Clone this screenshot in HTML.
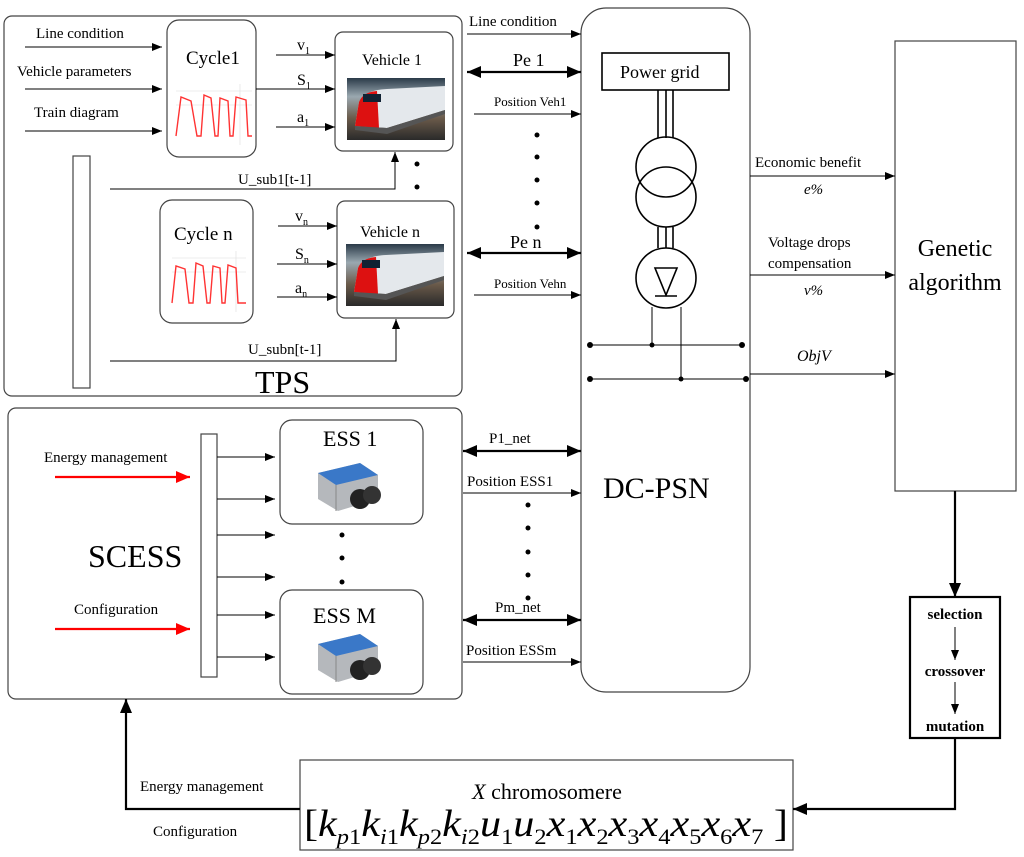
<!DOCTYPE html>
<html><head><meta charset="utf-8"><style>
html,body{margin:0;padding:0;background:#fff;}
svg{display:block;font-family:"Liberation Serif",serif;}
</style></head><body>
<svg width="1024" height="857" viewBox="0 0 1024 857" xmlns="http://www.w3.org/2000/svg">
<defs>
<marker id="a" markerWidth="10" markerHeight="8" refX="10" refY="4" orient="auto" markerUnits="userSpaceOnUse"><path d="M0,0 L10,4 L0,8 Z" fill="#000"/></marker>
<marker id="ab" markerWidth="14" markerHeight="12" refX="14" refY="6" orient="auto-start-reverse" markerUnits="userSpaceOnUse"><path d="M0,0 L14,6 L0,12 Z" fill="#000"/></marker>
<marker id="ar" markerWidth="14" markerHeight="12" refX="14" refY="6" orient="auto" markerUnits="userSpaceOnUse"><path d="M0,0 L14,6 L0,12 Z" fill="#f00"/></marker>
<linearGradient id="tr" x1="0" y1="0" x2="0" y2="1"><stop offset="0" stop-color="#2a3a48"/><stop offset="0.3" stop-color="#9aa8b0"/><stop offset="0.65" stop-color="#6a5a4a"/><stop offset="1" stop-color="#2a2a2a"/></linearGradient>
<g id="train"><rect x="0" y="0" width="98" height="62" fill="url(#tr)"/><path d="M8,48 L12,24 Q18,12 40,11 L98,8 L98,32 L40,50 Z" fill="#e4e8ec"/><path d="M8,48 L12,24 Q16,14 30,13 L32,50 Z" fill="#d11"/><rect x="16" y="16" width="18" height="8" fill="#123"/><path d="M8,48 L40,50 L98,32 L98,36 L40,56 L8,52 Z" fill="#555"/></g>
<g id="bat"><path d="M10,18 L52,8 L70,20 L70,44 L30,56 L10,44 Z" fill="#b5b8bc"/><path d="M10,18 L52,8 L70,20 L28,30 Z" fill="#3a78c8"/><path d="M28,30 L28,56" stroke="#888"/><circle cx="52" cy="44" r="10" fill="#222"/><circle cx="64" cy="40" r="9" fill="#333"/></g>
</defs>
<g fill="none" stroke="#444" stroke-width="1.2">
<rect x="4" y="16" width="458" height="380" rx="8"/>
<rect x="167" y="20" width="89" height="137" rx="12"/>
<rect x="335" y="32" width="118" height="119" rx="8"/>
<rect x="160" y="200" width="93" height="123" rx="12"/>
<rect x="337" y="201" width="117" height="117" rx="8"/>
<rect x="73" y="156" width="17" height="232"/>
<rect x="8" y="408" width="454" height="291" rx="8"/>
<rect x="201" y="434" width="16" height="243"/>
<rect x="280" y="420" width="143" height="104" rx="12"/>
<rect x="280" y="590" width="143" height="104" rx="12"/>
<rect x="581" y="8" width="169" height="684" rx="25"/>
<rect x="895" y="41" width="121" height="450"/>
<rect x="300" y="760" width="493" height="90"/>
</g>
<rect x="910" y="597" width="90" height="141" fill="none" stroke="#000" stroke-width="2.2"/>
<g stroke="#ddd" stroke-width="0.6"><line x1="176" y1="91" x2="252" y2="91"/><line x1="176" y1="105" x2="252" y2="105"/><line x1="240" y1="84" x2="240" y2="145"/><line x1="172" y1="258" x2="246" y2="258"/><line x1="172" y1="272" x2="246" y2="272"/><line x1="236" y1="251" x2="236" y2="312"/></g>
<g stroke="#f33" stroke-width="1.4" fill="none">
<path d="M176,136 L181,97 L191,101 L197,136 L201,136 L204,95 L211,98 L215,136 L218,136 L220,98 L228,101 L230,136 L233,136 L236,97 L246,100 L248,136 L252,136"/>
<path d="M172,303 L176,266 L185,269 L189,303 L193,303 L196,263 L203,266 L207,303 L210,303 L213,266 L220,268 L222,303 L225,303 L228,265 L236,268 L238,303 L246,303"/>
</g>
<use href="#train" x="347" y="78"/>
<use href="#train" x="346" y="244"/>
<use href="#bat" x="308" y="455"/>
<use href="#bat" x="308" y="626"/>
<g stroke="#000" stroke-width="1" fill="none" marker-end="url(#a)">
<line x1="25" y1="47" x2="162" y2="47"/><line x1="25" y1="89" x2="162" y2="89"/><line x1="25" y1="131" x2="162" y2="131"/>
<line x1="276" y1="55" x2="335" y2="55"/><line x1="256" y1="89" x2="335" y2="89"/><line x1="276" y1="127" x2="335" y2="127"/>
<line x1="278" y1="226" x2="337" y2="226"/><line x1="277" y1="264" x2="337" y2="264"/><line x1="277" y1="297" x2="337" y2="297"/>
<polyline points="110,189 395,189 395,152"/><polyline points="110,361 396,361 396,319"/>
<line x1="467" y1="34" x2="581" y2="34"/><line x1="474" y1="114" x2="581" y2="114"/><line x1="474" y1="295" x2="581" y2="295"/>
<line x1="463" y1="493" x2="581" y2="493"/><line x1="463" y1="662" x2="581" y2="662"/>
<line x1="217" y1="457" x2="275" y2="457"/><line x1="217" y1="499" x2="275" y2="499"/><line x1="217" y1="535" x2="275" y2="535"/><line x1="217" y1="577" x2="275" y2="577"/><line x1="217" y1="615" x2="275" y2="615"/><line x1="217" y1="657" x2="275" y2="657"/>
<line x1="750" y1="176" x2="895" y2="176"/><line x1="750" y1="275" x2="895" y2="275"/><line x1="750" y1="374" x2="895" y2="374"/>
<line x1="955" y1="627" x2="955" y2="660"/><line x1="955" y1="682" x2="955" y2="714"/>
</g>
<g stroke="#000" stroke-width="2.2" fill="none">
<line x1="467" y1="72" x2="581" y2="72" marker-start="url(#ab)" marker-end="url(#ab)"/>
<line x1="467" y1="253" x2="581" y2="253" marker-start="url(#ab)" marker-end="url(#ab)"/>
<line x1="463" y1="451" x2="581" y2="451" marker-start="url(#ab)" marker-end="url(#ab)"/>
<line x1="463" y1="620" x2="581" y2="620" marker-start="url(#ab)" marker-end="url(#ab)"/>
<line x1="955" y1="491" x2="955" y2="597" marker-end="url(#ab)"/>
<polyline points="955,738 955,809 793,809" marker-end="url(#ab)"/>
<polyline points="300,809 126,809 126,699" marker-end="url(#ab)"/>
</g>
<g stroke="#f00" stroke-width="2.2"><line x1="55" y1="477" x2="190" y2="477" marker-end="url(#ar)"/><line x1="55" y1="629" x2="190" y2="629" marker-end="url(#ar)"/></g>
<g stroke="#000" stroke-width="1.6" fill="none">
<rect x="602" y="53" width="127" height="37"/>
<line x1="658" y1="90" x2="658" y2="138"/><line x1="666" y1="90" x2="666" y2="138"/><line x1="673" y1="90" x2="673" y2="138"/>
<circle cx="666" cy="167" r="30"/><circle cx="666" cy="197" r="30"/>
<line x1="658" y1="227" x2="658" y2="248"/><line x1="666" y1="227" x2="666" y2="248"/><line x1="673" y1="227" x2="673" y2="248"/>
<circle cx="666" cy="278" r="30"/><path d="M655,268 L677,268 L666,295 Z"/><line x1="655" y1="296" x2="677" y2="296"/>
</g>
<g stroke="#000" stroke-width="1" fill="none"><polyline points="652,307 652,345"/><polyline points="681,307 681,379"/><line x1="590" y1="345" x2="742" y2="345"/><line x1="590" y1="379" x2="746" y2="379"/></g>
<g fill="#000">
<circle cx="590" cy="345" r="3"/><circle cx="652" cy="345" r="2.5"/><circle cx="742" cy="345" r="3"/><circle cx="590" cy="379" r="3"/><circle cx="681" cy="379" r="2.5"/><circle cx="746" cy="379" r="3"/>
<circle cx="417" cy="164" r="2.5"/><circle cx="417" cy="187" r="2.5"/>
<circle cx="537" cy="135" r="2.5"/><circle cx="537" cy="157" r="2.5"/><circle cx="537" cy="180" r="2.5"/><circle cx="537" cy="203" r="2.5"/><circle cx="537" cy="227" r="2.5"/>
<circle cx="528" cy="505" r="2.5"/><circle cx="528" cy="528" r="2.5"/><circle cx="528" cy="552" r="2.5"/><circle cx="528" cy="575" r="2.5"/><circle cx="528" cy="598" r="2.5"/>
<circle cx="342" cy="535" r="2.5"/><circle cx="342" cy="558" r="2.5"/><circle cx="342" cy="582" r="2.5"/>
</g>
<g fill="#000" font-size="15">
<text x="36" y="38">Line condition</text>
<text x="17" y="76">Vehicle parameters</text>
<text x="34" y="117">Train diagram</text>
<text x="186" y="64" font-size="19">Cycle1</text>
<text x="174" y="240" font-size="19">Cycle n</text>
<text x="362" y="65" font-size="16">Vehicle 1</text>
<text x="360" y="237" font-size="16">Vehicle n</text>
<text x="297" y="50" font-size="16">v<tspan font-size="10" dy="4">1</tspan></text>
<text x="297" y="85" font-size="16">S<tspan font-size="10" dy="4">1</tspan></text>
<text x="297" y="122" font-size="16">a<tspan font-size="10" dy="4">1</tspan></text>
<text x="295" y="221" font-size="16">v<tspan font-size="10" dy="4">n</tspan></text>
<text x="295" y="259" font-size="16">S<tspan font-size="10" dy="4">n</tspan></text>
<text x="295" y="293" font-size="16">a<tspan font-size="10" dy="4">n</tspan></text>
<text x="238" y="184">U_sub1[t-1]</text>
<text x="248" y="354">U_subn[t-1]</text>
<text x="255" y="393" font-size="32">TPS</text>
<text x="469" y="26">Line condition</text>
<text x="513" y="66" font-size="18">Pe 1</text>
<text x="494" y="106" font-size="13">Position Veh1</text>
<text x="510" y="248" font-size="18">Pe n</text>
<text x="494" y="288" font-size="13">Position Vehn</text>
<text x="620" y="78" font-size="18">Power grid</text>
<text x="603" y="498" font-size="30">DC-PSN</text>
<text x="489" y="443">P1_net</text>
<text x="467" y="486">Position ESS1</text>
<text x="495" y="612">Pm_net</text>
<text x="466" y="655">Position ESSm</text>
<text x="44" y="462">Energy management</text>
<text x="74" y="614">Configuration</text>
<text x="88" y="567" font-size="32">SCESS</text>
<text x="323" y="446" font-size="22">ESS 1</text>
<text x="313" y="623" font-size="22">ESS M</text>
<text x="755" y="167">Economic benefit</text>
<text x="804" y="194" font-style="italic">e%</text>
<text x="768" y="247">Voltage drops</text>
<text x="768" y="268">compensation</text>
<text x="804" y="295" font-style="italic">v%</text>
<text x="797" y="361" font-size="16" font-style="italic">ObjV</text>
<text x="955" y="256" font-size="24" text-anchor="middle">Genetic</text>
<text x="955" y="290" font-size="24" text-anchor="middle">algorithm</text>
<text x="955" y="619" font-size="15" font-weight="bold" text-anchor="middle">selection</text>
<text x="955" y="676" font-size="15" font-weight="bold" text-anchor="middle">crossover</text>
<text x="955" y="731" font-size="15" font-weight="bold" text-anchor="middle">mutation</text>
<text x="140" y="791">Energy management</text>
<text x="153" y="836">Configuration</text>
<text x="547" y="799" font-size="22" text-anchor="middle"><tspan font-style="italic">X</tspan> chromosomere</text>
<text x="304" y="836" font-size="38" textLength="484" lengthAdjust="spacingAndGlyphs">[<tspan font-style="italic">k</tspan><tspan font-size="22" dy="8"><tspan font-style="italic">p</tspan>1</tspan><tspan dy="-8" font-style="italic">k</tspan><tspan font-size="22" dy="8"><tspan font-style="italic">i</tspan>1</tspan><tspan dy="-8" font-style="italic">k</tspan><tspan font-size="22" dy="8"><tspan font-style="italic">p</tspan>2</tspan><tspan dy="-8" font-style="italic">k</tspan><tspan font-size="22" dy="8"><tspan font-style="italic">i</tspan>2</tspan><tspan dy="-8" font-style="italic">u</tspan><tspan font-size="22" dy="8">1</tspan><tspan dy="-8" font-style="italic">u</tspan><tspan font-size="22" dy="8">2</tspan><tspan dy="-8" font-style="italic">x</tspan><tspan font-size="22" dy="8">1</tspan><tspan dy="-8" font-style="italic">x</tspan><tspan font-size="22" dy="8">2</tspan><tspan dy="-8" font-style="italic">x</tspan><tspan font-size="22" dy="8">3</tspan><tspan dy="-8" font-style="italic">x</tspan><tspan font-size="22" dy="8">4</tspan><tspan dy="-8" font-style="italic">x</tspan><tspan font-size="22" dy="8">5</tspan><tspan dy="-8" font-style="italic">x</tspan><tspan font-size="22" dy="8">6</tspan><tspan dy="-8" font-style="italic">x</tspan><tspan font-size="22" dy="8">7</tspan><tspan dy="-8"> ]</tspan></text>
</g>
</svg>
</body></html>
